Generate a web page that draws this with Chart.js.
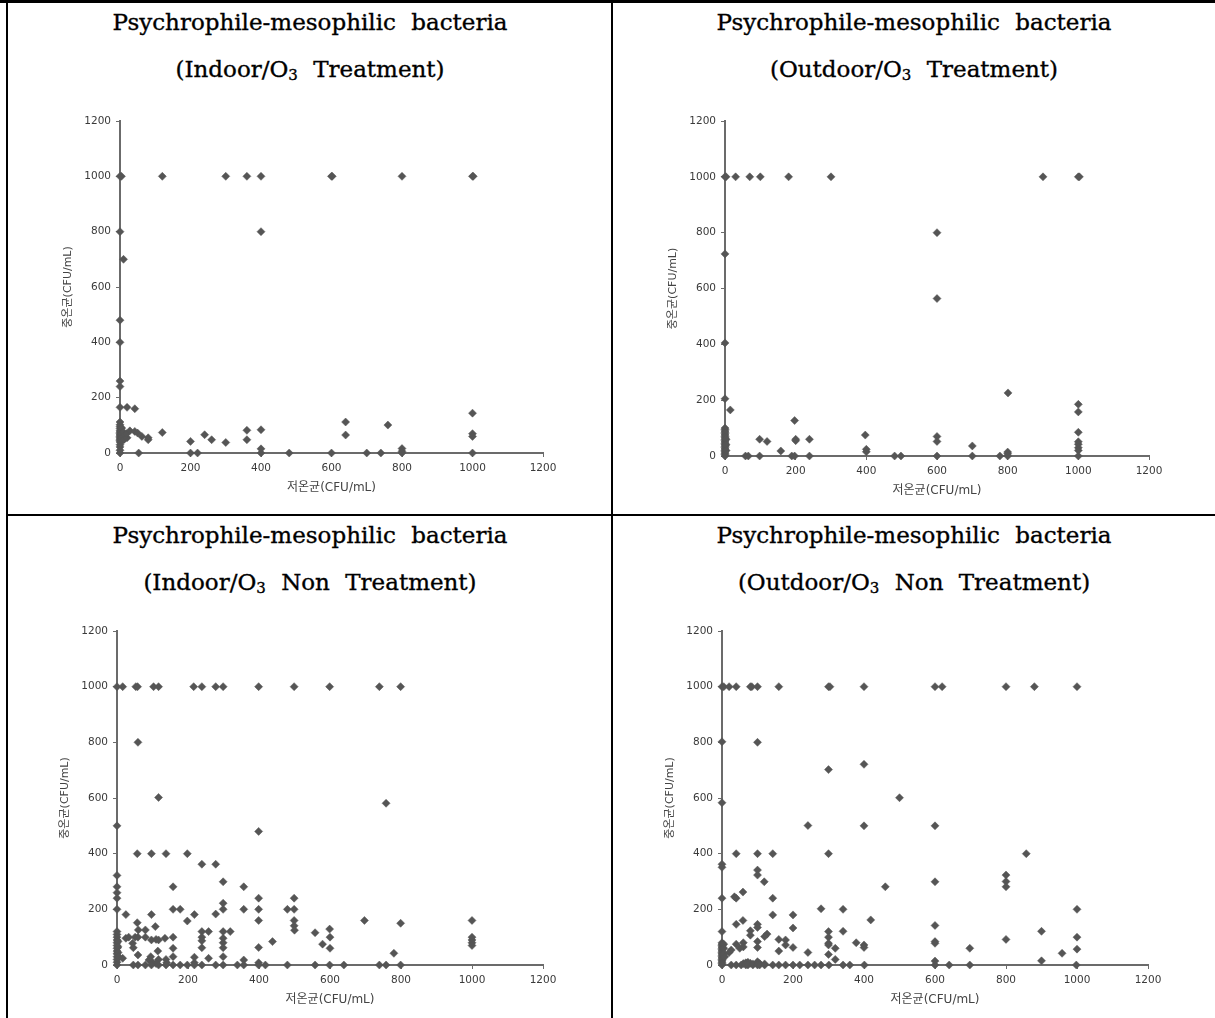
<!DOCTYPE html>
<html>
<head>
<meta charset="utf-8">
<script src="https://cdn.jsdelivr.net/npm/chart.js@4/dist/chart.umd.min.js"></script>
<style>
    body { margin: 0; background: #fff; width: 1215px; height: 1018px; overflow: hidden; position: relative; }
    .rule { position: absolute; background: #000; }
    .title {
        position: absolute; width: 600px; text-align: center;
        font-family: "DejaVu Serif", serif; font-size: 23px; line-height: 47px;
        word-spacing: 8px; color: #000; white-space: nowrap;
        -webkit-text-stroke: 0.35px #000;
    }
    .title sub { font-size: 15px; vertical-align: -3px; line-height: 0; }
    canvas { position: absolute; }
</style>
</head>
<body>
<div class="rule" style="left:0;top:0;width:1215px;height:3px"></div>
<div class="rule" style="left:6px;top:0;width:2px;height:1018px"></div>
<div class="rule" style="left:611px;top:0;width:2px;height:1018px"></div>
<div class="rule" style="left:6px;top:514px;width:1209px;height:2px"></div>

<div class="title" style="left:10px;top:-1px">Psychrophile-mesophilic bacteria<br>(Indoor/O<sub>3</sub> Treatment)</div>
<div class="title" style="left:614px;top:-1px">Psychrophile-mesophilic bacteria<br>(Outdoor/O<sub>3</sub> Treatment)</div>
<div class="title" style="left:10px;top:512px">Psychrophile-mesophilic bacteria<br>(Indoor/O<sub>3</sub> Non Treatment)</div>
<div class="title" style="left:614px;top:512px">Psychrophile-mesophilic bacteria<br>(Outdoor/O<sub>3</sub> Non Treatment)</div>

<canvas id="c1"></canvas>
<canvas id="c2"></canvas>
<canvas id="c3"></canvas>
<canvas id="c4"></canvas>

<script>
// [저온균, 중온균] pairs (CFU/mL)
const indoorTreated = [
    [0,1000],[4,1000],[120,1000],[300,1000],[360,1000],[400,1000],[600,1000],[602,1000],[800,1000],[1000,1000],[1002,1000],
    [0,800],[400,800],[10,700],[0,480],[0,400],[0,260],[0,240],
    [0,165],[20,165],[42,160],
    [0,112],[0,102],[0,95],[0,88],[0,80],[0,75],[0,70],[0,65],[0,60],[0,55],[0,50],[0,45],[0,40],[0,30],[0,22],[0,10],[0,0],
    [5,90],[5,70],[6,55],[8,45],[10,60],[10,75],[12,50],[15,65],[20,55],[18,70],
    [28,80],[42,78],[50,72],[62,60],[80,55],[80,48],[120,74],
    [200,42],[240,66],[260,48],[300,38],[360,82],[360,48],[400,84],[400,15],
    [640,112],[640,65],[760,101],[800,16],[800,6],[1000,144],[1000,70],[1000,60],
    [53,0],[200,0],[220,0],[400,0],[480,0],[600,0],[700,0],[740,0],[800,0],[1000,0]
];

const outdoorTreated = [
    [0,1000],[3,1000],[30,1000],[70,1000],[100,1000],[180,1000],[300,1000],[900,1000],[1000,1000],[1003,1000],
    [600,800],[600,564],[0,724],[0,405],[0,205],[15,165],
    [0,100],[0,95],[0,90],[0,85],[0,80],[0,75],[0,70],[0,65],[0,60],[0,55],[0,50],[0,45],[0,40],[0,35],
    [0,30],[0,25],[0,20],[0,15],[0,10],[0,5],[0,0],[3,60],[3,40],[3,20],
    [98,60],[119,52],[158,18],[197,127],[200,60],[200,55],[239,60],[397,75],[400,24],[400,15],
    [600,70],[600,52],[700,36],[801,226],[800,14],[800,8],
    [1000,185],[1000,158],[1000,85],[1000,51],[1000,42],[1000,30],[1000,20],
    [58,0],[66,0],[98,0],[189,0],[197,0],[239,0],[480,0],[498,0],[600,0],[700,0],[778,0],[800,0],[1000,0]
];

const indoorUntreated = [
    [0,1000],[16,1000],[53,1000],[58,1000],[103,1000],[117,1000],[216,1000],[239,1000],[278,1000],[299,1000],
    [399,1000],[499,1000],[599,1000],[739,1000],[799,1000],
    [59,800],[117,602],[758,581],[0,500],[399,480],
    [57,400],[97,400],[138,400],[198,400],[239,362],[278,362],[0,322],[299,299],
    [0,281],[158,281],[357,281],[0,260],[0,240],[399,240],[499,240],[299,222],
    [0,200],[158,200],[178,200],[299,200],[357,200],[399,200],[480,200],[499,200],
    [25,181],[97,181],[218,181],[278,183],
    [198,158],[399,160],[499,160],[697,160],[1000,160],[57,152],[799,150],[108,138],[499,141],[599,129],
    [60,126],[80,126],[500,125],[239,120],[258,120],[299,120],[319,120],[0,120],[558,116],
    [0,110],[0,100],[0,90],[0,80],[0,70],[0,60],[0,50],[0,40],[0,30],[0,20],[0,10],[0,0],
    [3,85],[3,65],[3,45],[5,30],
    [25,96],[33,100],[51,100],[59,100],[80,100],[97,90],[110,92],[117,90],[135,96],[158,100],[239,100],[299,96],
    [600,100],[1000,100],[239,87],[299,80],[1000,90],[1000,80],[1000,70],[438,84],[579,75],
    [44,78],[46,62],[239,62],[299,62],[399,63],[158,60],[600,60],[115,50],[780,42],[59,36],[95,30],[158,30],
    [16,24],[90,18],[117,20],[138,20],[218,28],[258,24],[299,30],[357,18],[399,8],[100,10],[110,5],[140,8],[218,8],
    [46,0],[59,0],[80,0],[97,0],[117,0],[138,0],[158,0],[178,0],[198,0],[218,0],[239,0],[278,0],[299,0],
    [339,0],[357,0],[399,0],[418,0],[480,0],[558,0],[599,0],[639,0],[739,0],[758,0],[799,0]
];

const outdoorUntreated = [
    [0,1000],[5,1000],[20,1000],[40,1000],[80,1000],[84,1000],[100,1000],[160,1000],[300,1000],[304,1000],
    [400,1000],[600,1000],[620,1000],[800,1000],[880,1000],[1000,1000],
    [0,802],[100,800],[300,702],[400,721],[500,601],[0,583],[242,501],[400,500],[600,500],
    [40,400],[100,400],[143,400],[300,400],[857,400],
    [0,362],[0,351],[100,341],[100,323],[119,299],[600,299],[800,323],[800,300],[800,281],[460,281],
    [59,262],[35,245],[40,240],[0,240],[143,240],
    [279,202],[341,200],[1000,200],[143,180],[200,180],[419,162],[59,160],[40,146],[100,146],[100,135],[600,142],[200,133],
    [80,123],[0,120],[300,120],[341,121],[900,121],[127,111],[120,102],[80,107],[300,100],[1000,100],[800,92],[160,92],[179,90],
    [100,84],[600,84],[600,78],[378,80],[300,78],[300,72],[400,72],[400,63],[60,80],[40,75],[60,65],[50,60],
    [26,54],[20,45],[100,63],[200,63],[319,60],[698,60],[1000,57],[160,50],[242,45],[300,38],[958,42],
    [319,20],[600,14],[900,15],[179,72],
    [0,80],[0,75],[0,70],[0,65],[0,60],[0,55],[0,50],[0,45],[0,40],[0,35],[0,30],[0,25],[0,20],[0,15],[0,10],[0,5],[0,0],
    [5,75],[5,60],[5,40],[8,30],
    [60,5],[67,8],[73,10],[80,6],[87,4],[100,8],[100,12],[106,5],[120,4],
    [26,0],[40,0],[54,0],[67,0],[73,0],[87,0],[100,0],[106,0],[120,0],[143,0],[160,0],[179,0],[200,0],[219,0],
    [242,0],[261,0],[279,0],[301,0],[341,0],[360,0],[401,0],[600,0],[640,0],[698,0],[998,0]
];

const xTitle = '저온균(CFU/mL)';
const yTitle = '중온균(CFU/mL)';
const axisMax = 1200;
const axisStep = 200;

const AXIS_W = 80;   // room left of plot for y labels + title
const AXIS_H = 47;   // room under plot for x labels + title
const PAD_TOP = 21;
const PAD_RIGHT = 27;

function makeChart(id, points, area) {
    const canvas = document.getElementById(id);
    const w = (area.right - area.left) + AXIS_W + PAD_RIGHT;
    const h = (area.bottom - area.top) + PAD_TOP + AXIS_H;
    canvas.width = w;
    canvas.height = h;
    canvas.style.left = (area.left - AXIS_W) + 'px';
    canvas.style.top = (area.top - PAD_TOP) + 'px';

    const axisColor = '#6b6b6b';
    const tickFont = { family: 'DejaVu Sans', size: 10.5 };
    const plainNumber = v => String(v);  // no thousands separator, like the original

    return new Chart(canvas, {
        type: 'scatter',
        data: {
            datasets: [{
                data: points.map(p => ({ x: p[0], y: p[1] })),
                pointStyle: 'rectRot',
                pointRadius: 4,
                pointBorderWidth: 0.5,
                backgroundColor: '#555555',
                borderColor: '#555555',
                clip: false
            }]
        },
        options: {
            responsive: false,
            animation: false,
            devicePixelRatio: 1,
            layout: { padding: { top: PAD_TOP, right: PAD_RIGHT, left: 0, bottom: 0 } },
            plugins: { legend: { display: false }, tooltip: { enabled: false } },
            scales: {
                x: {
                    type: 'linear',
                    min: 0,
                    max: axisMax,
                    afterFit: s => { s.height = AXIS_H; },
                    ticks: { stepSize: axisStep, color: '#3a3a3a', font: tickFont, padding: 5, maxRotation: 0, callback: plainNumber },
                    grid: { drawOnChartArea: false, tickLength: 4, color: axisColor, lineWidth: 1 },
                    border: { color: axisColor, width: 2 },
                    title: {
                        display: true, text: xTitle, color: '#444',
                        font: { family: 'DejaVu Sans, "Noto Sans CJK KR"', size: 12 },
                        padding: { top: 0, bottom: 5 }
                    }
                },
                y: {
                    type: 'linear',
                    min: 0,
                    max: axisMax,
                    afterFit: s => { s.width = AXIS_W; },
                    ticks: { stepSize: axisStep, color: '#3a3a3a', font: tickFont, padding: 5, callback: plainNumber },
                    grid: { drawOnChartArea: false, tickLength: 4, color: axisColor, lineWidth: 1 },
                    border: { color: axisColor, width: 2 },
                    title: {
                        display: true, text: yTitle, color: '#444',
                        font: { family: 'DejaVu Sans, "Noto Sans CJK KR"', size: 11 },
                        padding: { top: 22, bottom: 0 }
                    }
                }
            }
        }
    });
}

makeChart('c1', indoorTreated,    { left: 120, right: 543, top: 121, bottom: 453 });
makeChart('c2', outdoorTreated,   { left: 725, right: 1149, top: 121, bottom: 456 });
makeChart('c3', indoorUntreated,  { left: 117, right: 543, top: 631, bottom: 965 });
makeChart('c4', outdoorUntreated, { left: 722, right: 1148, top: 631, bottom: 965 });
</script>
</body>
</html>
